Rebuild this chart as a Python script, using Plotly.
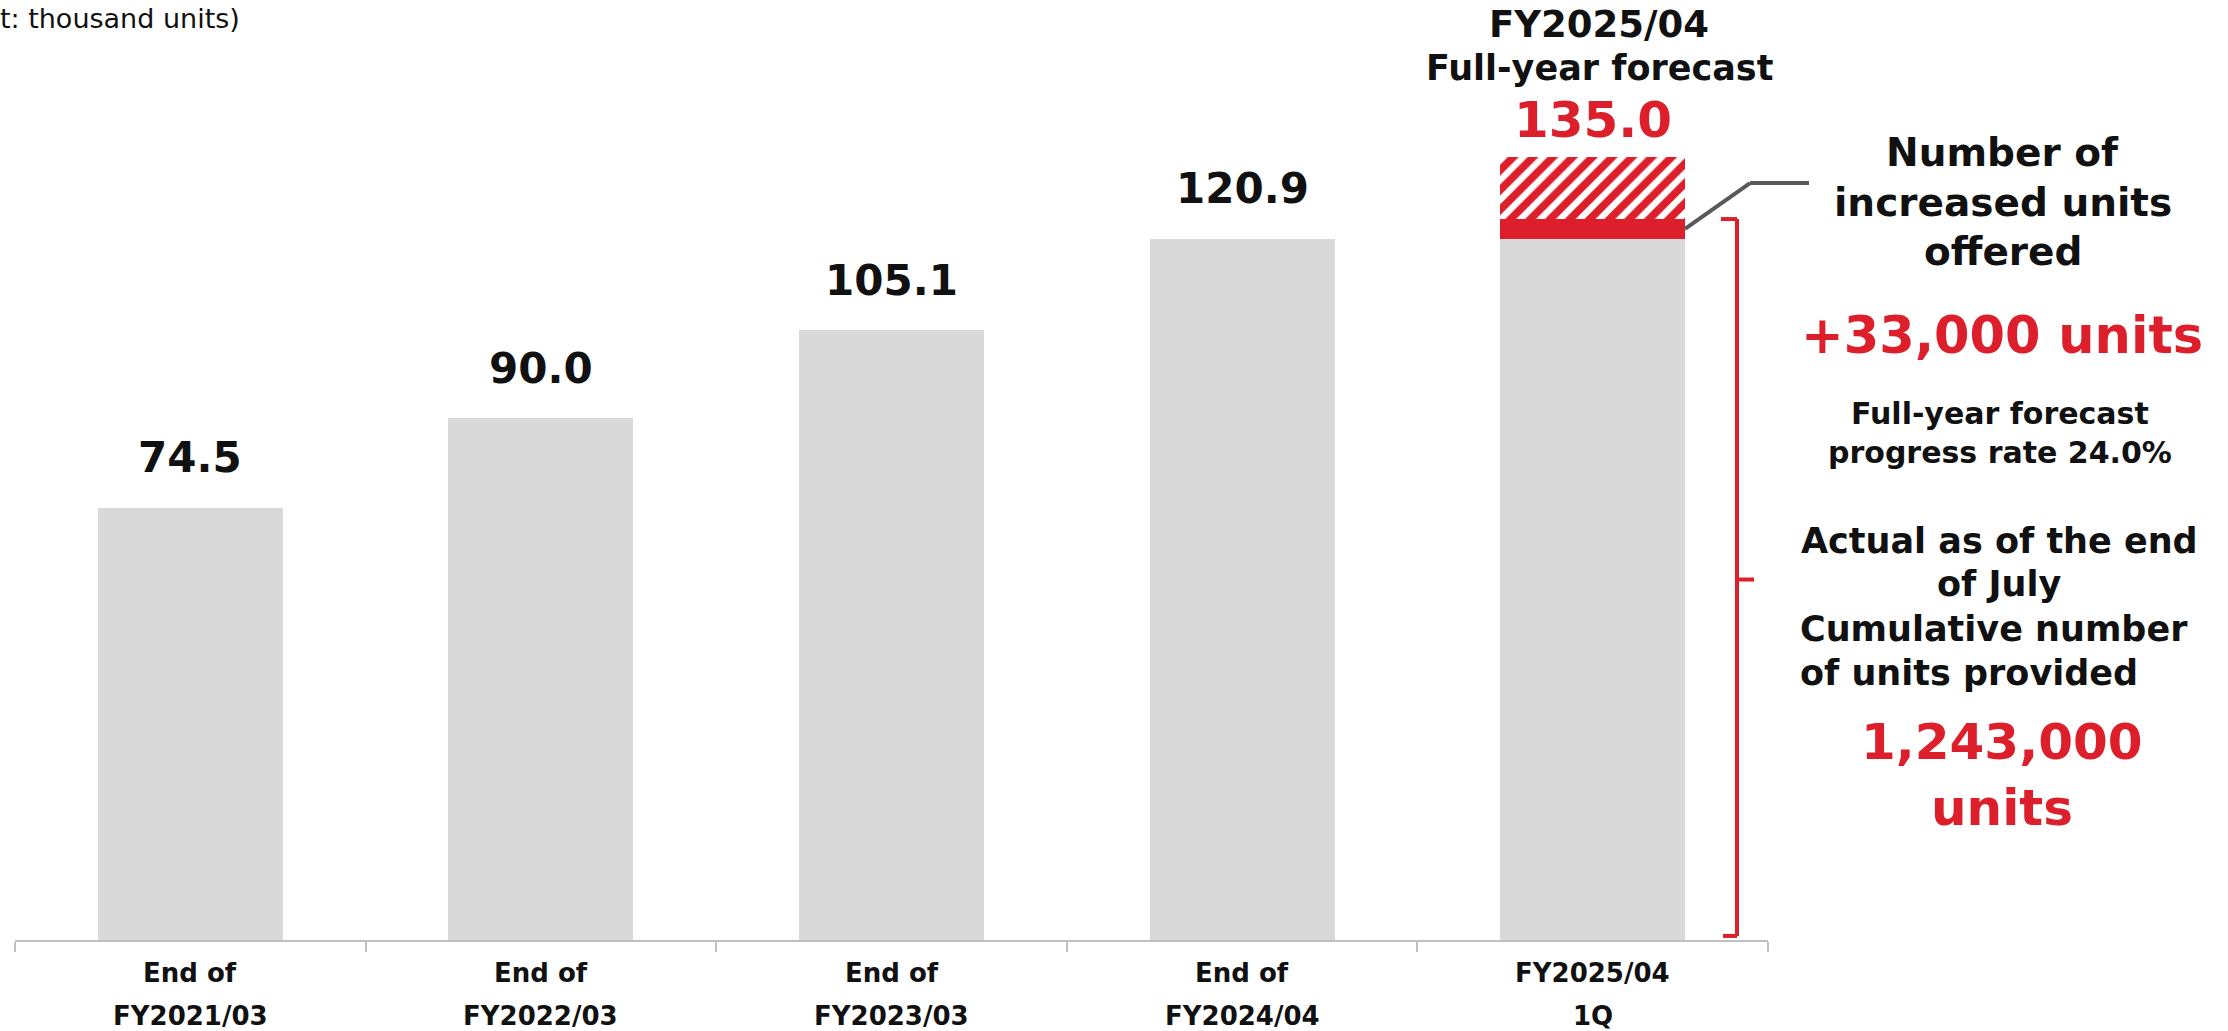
import plotly.graph_objects as go

# ---- data (thousand units) ----
label_line1 = ["End of", "End of", "End of", "End of", "FY2025/04"]
label_line2 = ["FY2021/03", "FY2022/03", "FY2023/03", "FY2024/04", "1Q"]
year_end_units = [74.5, 90.0, 105.1, 120.9, 120.9]   # grey bars
q1_cumulative = 124.3                                   # actual at end of July
fy_forecast = 135.0                                     # full-year forecast

categories = [f"{a} {b}" for a, b in zip(label_line1, label_line2)]
last_cat = categories[-1]
q1_increase = round(q1_cumulative - year_end_units[-1], 1)
forecast_remaining = round(fy_forecast - q1_cumulative, 1)

RED = "#dc1f2a"
GREY = "#d9d9d9"
INK = "#111111"
FONT = "DejaVu Sans"

# ---- page geometry (pixels) ----
W, H = 2228, 1031
M_L, M_R, M_T, M_B = 15, 460, 12, 91
PW = W - M_L - M_R
PH = H - M_T - M_B
Y_MAX = 160
BAR_W = 0.528


def px(x):
    """page x pixel -> paper coordinate"""
    return (x - M_L) / PW


def py(y):
    """page y pixel -> paper coordinate"""
    return (H - M_B - y) / PH


fig = go.Figure()

fig.add_trace(go.Bar(
    x=categories, y=year_end_units,
    marker=dict(color=GREY, line=dict(width=0)),
    width=BAR_W, hoverinfo="skip",
))
fig.add_trace(go.Bar(
    x=[last_cat], y=[q1_increase],
    marker=dict(color=RED, line=dict(width=0)),
    width=BAR_W, hoverinfo="skip",
))
fig.add_trace(go.Bar(
    x=[last_cat], y=[forecast_remaining],
    marker=dict(color="white", line=dict(width=0),
                pattern=dict(shape="/", fgcolor=RED, bgcolor="white",
                             fgopacity=1, size=14, solidity=0.55)),
    width=BAR_W, hoverinfo="skip",
))

annotations = []

# value labels above the year-end bars
for cat, v in zip(categories[:-1], year_end_units[:-1]):
    annotations.append(dict(
        x=cat, y=v, xref="x", yref="y", text=f"<b>{v:.1f}</b>",
        showarrow=False, yshift=50,
        font=dict(family=FONT, size=42, color=INK),
        xanchor="center", yanchor="middle"))

# forecast label
annotations.append(dict(
    x=last_cat, y=fy_forecast, xref="x", yref="y",
    text=f"<b>{fy_forecast:.1f}</b>", showarrow=False, yshift=37,
    font=dict(family=FONT, size=50, color=RED),
    xanchor="center", yanchor="middle"))

# two-line category labels under the axis
for cat, l1, l2 in zip(categories, label_line1, label_line2):
    for line, ypix in ((l1, 973), (l2, 1016)):
        annotations.append(dict(
            x=cat, y=py(ypix), xref="x", yref="paper", text=f"<b>{line}</b>",
            showarrow=False, font=dict(family=FONT, size=26, color=INK),
            xanchor="center", yanchor="middle"))


def text(t, x, y, size, color=INK, anchor="center", bold=True):
    annotations.append(dict(
        x=px(x), y=py(y), xref="paper", yref="paper",
        text=f"<b>{t}</b>" if bold else t, showarrow=False,
        font=dict(family=FONT, size=size, color=color),
        xanchor=anchor, yanchor="middle"))


# unit note (top left)
text("(Unit: thousand units)", 242, 18, 27, anchor="right", bold=False)

# forecast heading above the last bar
text("FY2025/04", 1599, 25, 37)
text("Full-year forecast", 1599, 68, 35)

# right-hand commentary
text("Number of", 2003, 152, 39)
text("increased units", 2003, 202, 39)
text("offered", 2003, 252, 39)
text("+33,000 units", 2002, 335, 51, RED)
text("Full-year forecast", 2000, 413, 30)
text("progress rate 24.0%", 2000, 452, 30)
text("Actual as of the end", 1999, 541, 35)
text("of July", 1999, 584, 35)
text("Cumulative number", 1798, 629, 35, anchor="left")
text("of units provided", 1798, 673, 35, anchor="left")
text("1,243,000", 2002, 742, 50, RED)
text("units", 2002, 808, 50, RED)

shapes = []

# red bracket spanning the cumulative total
bx = px(1737)
bracket = dict(type="line", xref="paper", yref="y",
               line=dict(color=RED, width=4))
shapes.append({**bracket, "x0": bx, "x1": bx, "y0": 0.7, "y1": q1_cumulative})
shapes.append({**bracket, "x0": px(1721), "x1": bx,
               "y0": q1_cumulative, "y1": q1_cumulative})
shapes.append({**bracket, "x0": px(1723), "x1": bx, "y0": 0.7, "y1": 0.7})
shapes.append({**bracket, "x0": bx, "x1": px(1754),
               "y0": q1_cumulative / 2, "y1": q1_cumulative / 2})

# leader line from the increase segment to its caption
mid_inc = (year_end_units[-1] + q1_cumulative) / 2
leader = dict(type="line", xref="paper", yref="y",
              line=dict(color="#595959", width=4))
shapes.append({**leader, "x0": px(1685), "x1": px(1750),
               "y0": mid_inc, "y1": 130.5})
shapes.append({**leader, "x0": px(1750), "x1": px(1809),
               "y0": 130.5, "y1": 130.5})

fig.update_layout(
    width=W, height=H,
    margin=dict(l=M_L, r=M_R, t=M_T, b=M_B, pad=0),
    barmode="stack", showlegend=False,
    plot_bgcolor="white", paper_bgcolor="white",
    annotations=annotations, shapes=shapes,
    xaxis=dict(
        type="category", range=[-0.5, 4.5], showgrid=False,
        showline=True, linecolor="#c0c0c0", linewidth=2,
        ticks="outside", tickson="boundaries", ticklen=10,
        tickcolor="#c0c0c0", tickwidth=2, showticklabels=False,
        fixedrange=True,
    ),
    yaxis=dict(range=[0, Y_MAX], visible=False, fixedrange=True),
)

fig.write_html("out.html", config={"displayModeBar": False})
